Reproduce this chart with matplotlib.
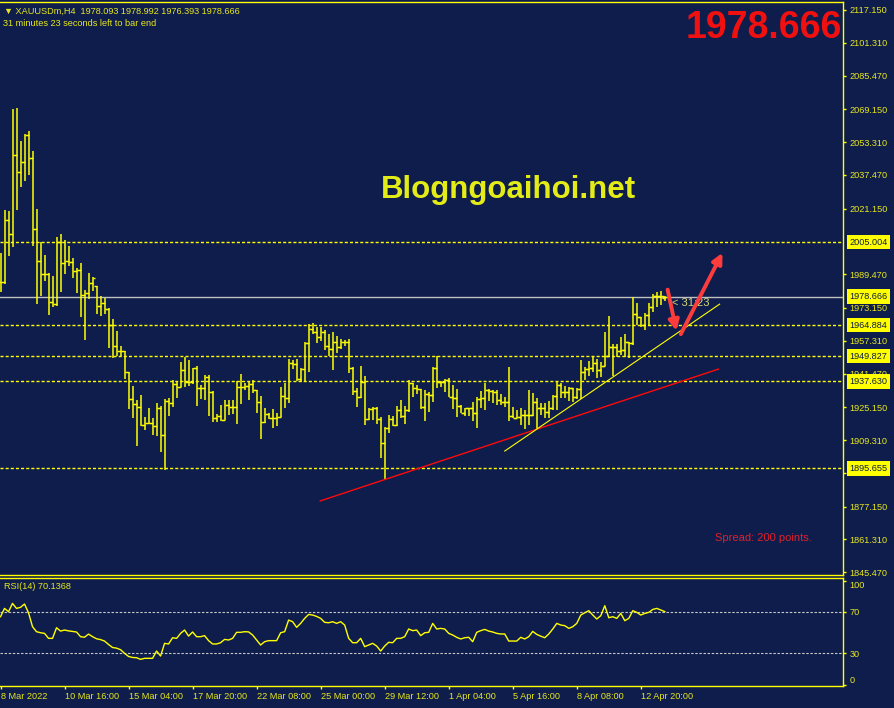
import numpy as np
import matplotlib.pyplot as plt
from matplotlib.transforms import blended_transform_factory

plt.rcParams['font.family'] = ['Liberation Sans', 'DejaVu Sans']

# colours of the terminal
bg = '#0e1d4c'
yel = '#ffff00'
txt = '#e8e81a'

# ---- data (XAUUSDm, H4) ----
highs = [
    1999.7, 2020.5, 2020.0, 2069.2, 2069.7, 2053.8, 2057.0, 2058.6, 2049.0, 2020.9,
    2005.0, 1998.7, 1990.0, 1988.6, 2007.4, 2008.9, 2006.0, 2003.1, 1997.3, 1992.6,
    1994.9, 1981.8, 1990.0, 1988.1, 1983.8, 1978.9, 1978.1, 1973.0, 1967.8, 1962.0,
    1954.8, 1952.2, 1942.2, 1935.5, 1928.7, 1931.1, 1920.5, 1924.8, 1920.0, 1927.1,
    1925.8, 1929.2, 1929.7, 1938.2, 1937.9, 1947.0, 1949.5, 1948.0, 1944.2, 1945.1,
    1936.0, 1940.8, 1940.8, 1933.1, 1921.8, 1926.1, 1928.7, 1928.7, 1928.7, 1937.9,
    1941.3, 1936.8, 1937.9, 1938.2, 1933.5, 1930.6, 1924.8, 1922.2, 1924.3, 1922.2,
    1934.8, 1936.8, 1948.5, 1948.0, 1948.5, 1944.0, 1956.5, 1965.2, 1965.9, 1963.8,
    1963.8, 1962.5, 1960.4, 1961.4, 1959.8, 1958.3, 1957.5, 1958.0, 1944.6, 1934.3,
    1945.0, 1940.3, 1925.0, 1925.3, 1925.1, 1920.5, 1915.7, 1921.3, 1921.1, 1925.8,
    1928.7, 1926.0, 1938.2, 1936.8, 1936.0, 1934.0, 1933.5, 1932.3, 1944.8, 1949.9,
    1937.9, 1938.7, 1939.2, 1936.0, 1934.0, 1926.3, 1924.7, 1925.0, 1927.9, 1930.3,
    1933.1, 1936.8, 1934.0, 1933.5, 1933.5, 1931.5, 1930.3, 1944.5, 1925.4, 1923.9,
    1925.0, 1923.9, 1933.5, 1931.9, 1929.5, 1927.1, 1927.1, 1928.2, 1931.1, 1937.9,
    1937.1, 1935.6, 1935.1, 1934.3, 1934.3, 1948.0, 1944.8, 1947.7, 1949.6, 1948.3,
    1947.2, 1961.4, 1969.4, 1955.6, 1955.6, 1959.0, 1960.4, 1956.9, 1978.3, 1975.5,
    1969.0, 1970.6, 1975.4, 1979.7, 1981.0, 1981.3, 1978.992]

lows = [
    1980.7, 1984.7, 1998.4, 2002.7, 2020.6, 2031.7, 2034.6, 2037.5, 2003.2, 1975.1,
    1978.9, 1986.3, 1969.9, 1973.8, 1974.3, 1981.0, 1989.6, 1993.4, 1987.6, 1980.4,
    1969.0, 1957.9, 1977.7, 1981.5, 1970.4, 1969.4, 1970.4, 1954.0, 1949.2, 1949.8,
    1949.8, 1939.0, 1924.5, 1920.2, 1906.6, 1916.3, 1914.0, 1916.9, 1911.8, 1911.3,
    1903.4, 1894.6, 1921.0, 1925.5, 1929.7, 1934.8, 1935.0, 1935.5, 1936.6, 1925.8,
    1929.2, 1928.7, 1921.0, 1917.8, 1917.9, 1918.6, 1918.9, 1921.5, 1922.1, 1917.1,
    1926.8, 1933.7, 1928.9, 1931.9, 1922.4, 1910.0, 1917.4, 1919.4, 1915.3, 1916.3,
    1920.3, 1924.7, 1927.2, 1943.5, 1938.0, 1937.6, 1937.6, 1942.4, 1960.4, 1956.1,
    1957.4, 1952.7, 1949.8, 1943.0, 1951.2, 1953.3, 1955.0, 1941.6, 1931.1, 1925.1,
    1929.5, 1916.8, 1918.9, 1919.0, 1917.3, 1900.5, 1890.6, 1912.6, 1916.3, 1916.1,
    1919.9, 1916.9, 1923.1, 1930.3, 1931.6, 1924.3, 1918.7, 1923.1, 1927.9, 1934.3,
    1934.8, 1932.3, 1930.3, 1924.2, 1920.3, 1922.2, 1921.1, 1921.1, 1918.7, 1915.0,
    1924.7, 1923.9, 1928.4, 1927.1, 1926.3, 1926.3, 1925.1, 1918.6, 1919.9, 1919.9,
    1916.6, 1914.5, 1916.6, 1920.7, 1914.5, 1921.4, 1919.9, 1920.2, 1923.9, 1923.9,
    1929.5, 1929.8, 1928.2, 1927.6, 1929.2, 1929.2, 1938.3, 1940.3, 1942.4, 1939.2,
    1940.0, 1945.3, 1949.6, 1940.3, 1949.6, 1950.4, 1949.6, 1949.1, 1955.3, 1964.9,
    1964.1, 1962.5, 1964.9, 1971.4, 1973.8, 1974.6, 1976.393]

closes = [
    1985.5, 2015.5, 2008.7, 2046.9, 2039.0, 2043.5, 2056.7, 2045.4, 2011.1, 1995.7,
    1989.4, 1989.4, 1976.2, 1974.9, 2005.0, 1994.7, 1995.7, 1995.2, 1991.0, 1991.5,
    1979.3, 1980.2, 1985.1, 1987.8, 1973.9, 1975.4, 1972.5, 1964.9, 1955.0, 1952.2,
    1952.2, 1942.1, 1929.0, 1926.6, 1925.1, 1916.5, 1917.4, 1917.6, 1916.0, 1924.7,
    1911.6, 1928.2, 1927.1, 1936.6, 1935.1, 1943.0, 1937.6, 1937.6, 1944.0, 1934.7,
    1934.3, 1939.8, 1932.6, 1919.9, 1921.1, 1919.0, 1926.1, 1925.1, 1925.1, 1934.8,
    1934.8, 1935.6, 1936.6, 1933.5, 1927.6, 1917.9, 1921.8, 1919.9, 1919.9, 1920.5,
    1930.5, 1929.5, 1946.6, 1946.2, 1938.8, 1943.5, 1956.1, 1962.8, 1961.4, 1959.0,
    1961.4, 1954.6, 1953.3, 1956.9, 1954.4, 1956.9, 1956.9, 1944.3, 1933.2, 1930.0,
    1937.3, 1919.5, 1924.5, 1925.0, 1919.5, 1907.8, 1915.3, 1919.5, 1916.6, 1923.7,
    1921.0, 1923.9, 1937.1, 1934.3, 1934.0, 1925.1, 1931.6, 1931.1, 1944.3, 1937.6,
    1937.3, 1938.4, 1930.3, 1929.5, 1926.0, 1922.2, 1924.7, 1924.7, 1922.2, 1929.2,
    1929.5, 1933.5, 1933.2, 1932.7, 1928.7, 1927.6, 1927.9, 1920.7, 1920.2, 1920.3,
    1921.4, 1921.4, 1921.4, 1927.9, 1924.7, 1924.7, 1923.1, 1924.7, 1930.8, 1935.9,
    1932.7, 1932.4, 1934.3, 1930.3, 1934.0, 1942.1, 1943.7, 1944.0, 1946.7, 1943.2,
    1945.3, 1950.1, 1954.4, 1954.1, 1952.5, 1952.8, 1956.9, 1956.1, 1970.1, 1969.0,
    1964.9, 1969.7, 1973.8, 1978.9, 1978.8, 1978.8, 1978.666]

first_open = 1985.8
last_open = 1978.093

rsi = [
    65.2, 73.2, 70.0, 78.0, 73.2, 74.2, 77.4, 69.0, 55.6, 50.8,
    49.8, 49.2, 44.4, 44.4, 54.6, 51.4, 52.4, 51.6, 51.1, 50.5,
    46.0, 45.5, 48.5, 46.0, 44.0, 43.2, 41.8, 38.5, 35.6, 35.0,
    33.5, 30.0, 27.0, 26.0, 25.8, 24.2, 25.2, 25.2, 25.2, 32.2,
    27.4, 39.6, 39.0, 45.0, 44.4, 49.2, 52.4, 46.6, 50.5, 46.0,
    46.0, 47.0, 42.2, 39.0, 39.0, 40.2, 43.4, 42.8, 44.4, 50.2,
    50.2, 50.8, 50.6, 47.6, 42.8, 38.0, 41.2, 42.2, 42.2, 42.2,
    49.8, 50.8, 62.0, 60.4, 55.0, 58.8, 63.6, 67.4, 66.8, 65.5,
    63.6, 59.8, 59.4, 60.4, 58.8, 60.4, 57.2, 44.4, 40.2, 40.2,
    44.4, 36.4, 38.0, 39.6, 37.0, 32.2, 37.0, 40.6, 40.2, 44.4,
    44.4, 46.0, 53.4, 51.8, 52.4, 47.0, 49.8, 50.2, 58.8, 53.4,
    54.0, 53.4, 49.2, 47.6, 45.4, 43.8, 45.0, 45.4, 41.2, 50.2,
    51.8, 53.0, 51.4, 50.5, 49.2, 48.6, 48.6, 41.8, 41.8, 41.8,
    45.4, 43.8, 46.0, 51.1, 48.2, 46.5, 45.0, 48.6, 53.4, 58.8,
    57.2, 56.6, 54.0, 55.6, 58.8, 66.8, 69.0, 71.0, 66.8, 63.0,
    66.2, 75.8, 64.2, 65.2, 63.6, 68.4, 61.4, 63.6, 71.0, 69.4,
    66.8, 68.4, 69.4, 72.2, 73.2, 71.6, 70.1]

levels = [2005.004, 1964.884, 1949.827, 1937.630, 1895.655]
last_price = 1978.666
price_ticks = [2117.150, 2101.310, 2085.470, 2069.150, 2053.310, 2037.470, 2021.150,
               1989.470, 1973.150, 1957.310, 1941.470, 1925.150, 1909.310, 1893.470,
               1877.150, 1861.310, 1845.470]
time_ticks = [0, 16, 32, 48, 64, 80, 96, 112, 128, 144, 160]
time_labels = ['8 Mar 2022', '10 Mar 16:00', '15 Mar 04:00', '17 Mar 20:00',
               '22 Mar 08:00', '25 Mar 00:00', '29 Mar 12:00', '1 Apr 04:00',
               '5 Apr 16:00', '8 Apr 08:00', '12 Apr 20:00']

# drawn objects (bar index, price)
red_trend = ([79.9, 179.4], [1879.9, 1943.6])
yellow_trend = ([126.0, 179.7], [1904.0, 1975.0])
arrow_down = ((166.7, 1982.0), (168.9, 1962.1))
arrow_up = ((170.0, 1960.5), (180.4, 1999.8))

# ---- figure ----
fig = plt.figure(figsize=(8.94, 7.08), dpi=100, facecolor=bg)
W, H = 894, 708
ax = fig.add_axes([0, 1 - 575 / H, 843.3 / W, 573 / H], facecolor=bg)
ax2 = fig.add_axes([0, 1 - 686 / H, 843.3 / W, 108.5 / H], facecolor=bg)

n = len(closes)
x = np.arange(n)
hi = np.array(highs)
lo = np.array(lows)
cl = np.array(closes)
op = np.r_[first_open, cl[:-1]]
op[-1] = last_open
op = np.clip(op, lo, hi)

dash = (0, (2.2, 1.5))
for lvl in levels:
    ax.axhline(lvl, color=yel, lw=1, ls=dash, zorder=1)
ax.axhline(last_price, color='#c0c0c0', lw=1, zorder=1)

ax.vlines(x, lo, hi, color=yel, lw=1.1, zorder=3)
ax.hlines(op, x - 0.7, x, color=yel, lw=1, zorder=3)
ax.hlines(cl, x, x + 0.7, color=yel, lw=1, zorder=3)

ax.plot(*red_trend, color='#ff0a0a', lw=1, zorder=4)
ax.plot(*yellow_trend, color=yel, lw=0.8, zorder=4)
for start, end in (arrow_down, arrow_up):
    ax.annotate('', xy=end, xytext=start,
                arrowprops=dict(arrowstyle='-|>', color='#ff3c3c', lw=2.8,
                                mutation_scale=15, shrinkA=0, shrinkB=0),
                zorder=5)

ax.set_xlim(-0.125, 210.6)
ax.set_ylim(1844.1, 2121.0)
ax.set_xticks([])
ax.yaxis.tick_right()
ax.set_yticks(price_ticks)
ax.set_yticklabels([f'{p:.3f}' for p in price_ticks])
ax.tick_params(axis='y', length=2.2, width=1, color=yel, labelcolor=txt,
               labelsize=6.6, pad=2.5)

trans = blended_transform_factory(ax.transAxes, ax.transData)
for lvl in levels + [last_price]:
    ax.annotate(f'{lvl:.3f}', xy=(1, lvl), xycoords=trans, xytext=(6, 0),
                textcoords='offset pixels', ha='left', va='center',
                fontsize=6.6, color=bg, zorder=10, annotation_clip=False,
                bbox=dict(boxstyle='square,pad=0.3', fc=yel, ec='none'))

ax.text(126.9, 2030.0, 'Blogngoaihoi.net', color='#e4ec17', fontsize=22.5,
        fontweight='bold', ha='center', va='center')
ax.text(0.9985, 0.955, '1978.666', transform=ax.transAxes, color='#f01010',
        fontsize=27, fontweight='bold', ha='right', va='center')
ax.text(0.963, 0.0646, 'Spread: 200 points.', transform=ax.transAxes,
        color='#e0202a', fontsize=8, ha='right', va='center')
ax.text(167.9, 1975.5, '< 31:23', color='#d8d878', fontsize=8,
        ha='left', va='center')

# ---- RSI panel ----
ax2.axhline(70, color='#c8c8c8', lw=0.8, ls=dash)
ax2.axhline(30, color='#c8c8c8', lw=0.8, ls=dash)
ax2.plot(x, rsi, color=yel, lw=1)
ax2.set_xlim(-0.125, 210.6)
ax2.set_ylim(-1.4, 102.9)
ax2.yaxis.tick_right()
ax2.set_yticks([0, 30, 70, 100])
ax2.set_yticklabels(['0', '30', '70', '100'])
ax2.tick_params(axis='y', length=2.2, width=1, color=yel, labelcolor=txt,
                labelsize=6.6, pad=2.5)
ylabs = ax2.get_yticklabels()
ylabs[0].set_va('bottom')
ylabs[-1].set_va('top')
ax2.set_xticks(time_ticks)
ax2.set_xticklabels(time_labels, ha='left')
ax2.tick_params(axis='x', length=2, width=1, color=yel, labelcolor=txt,
                labelsize=6.6, pad=2)
ax2.text(0.005, 0.915, 'RSI(14) 70.1368', transform=ax2.transAxes, color=txt,
         fontsize=6.6, ha='left', va='center')

for a in (ax, ax2):
    a.spines['left'].set_visible(False)
    for s in ('top', 'right', 'bottom'):
        a.spines[s].set_color(yel)
        a.spines[s].set_linewidth(1)

# header
fig.text(4 / W, 1 - 11 / H, '\u25bc XAUUSDm,H4  1978.093 1978.992 1976.393 1978.666',
         color=txt, fontsize=6.6, ha='left', va='center')
fig.text(3 / W, 1 - 24 / H, '31 minutes 23 seconds left to bar end',
         color=txt, fontsize=6.6, ha='left', va='center')

fig.savefig('out.png', dpi=100, facecolor=bg)
